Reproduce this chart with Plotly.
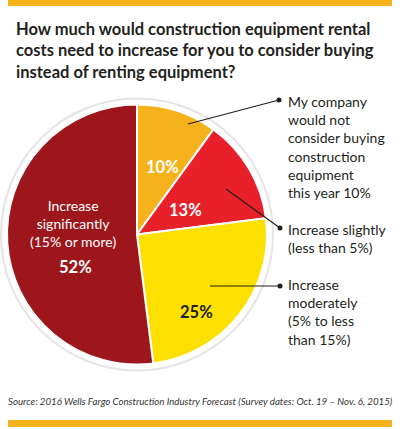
import plotly.graph_objects as go

# survey answers, clockwise from 12 o'clock
answers = [
    "My company would not consider buying construction equipment this year",
    "Increase slightly (less than 5%)",
    "Increase moderately (5% to less than 15%)",
    "Increase significantly (15% or more)",
]
shares = [10, 13, 25, 52]
colors = ["#F6B21B", "#E8202A", "#FEE000", "#9D161C"]

title = ("How much would construction equipment rental<br>"
         "costs need to increase for you to consider buying<br>"
         "instead of renting equipment?")
source = ("Source: 2016 Wells Fargo Construction Industry Forecast "
          "(Survey dates: Oct. 19 \u2013 Nov. 6, 2015)")

W, H = 400, 429
FONT = "Lato"
INK = "#231F20"


def px(x):
    return x / W


def py(y):
    return 1 - y / H


fig = go.Figure(go.Pie(
    labels=answers,
    values=shares,
    sort=False,
    direction="clockwise",
    rotation=0,
    marker=dict(colors=colors, line=dict(color="white", width=2)),
    textinfo="none",
    hoverinfo="label+percent",
    showlegend=False,
    domain=dict(x=[px(7), px(267)], y=[py(365), py(104)]),
))

shapes = []
# top and bottom rules
for y0, y1 in [(0, 6), (420, 427)]:
    shapes.append(dict(type="rect", xref="paper", yref="paper",
                       x0=px(8), x1=px(392), y0=py(y1), y1=py(y0),
                       fillcolor="#F6B21B", line_width=0, layer="below"))
# white rim with soft grey edge behind the pie
shapes.append(dict(type="circle", xref="paper", yref="paper",
                   x0=px(137 - 136), x1=px(137 + 136),
                   y0=py(234.5 + 136), y1=py(234.5 - 136),
                   fillcolor="white", line=dict(color="#E4E4E4", width=2),
                   layer="below"))

# leader lines: (dot x, dot y, end x, end y)
leaders = [(279, 100, 188, 124), (280, 228, 226, 189), (280, 286, 210, 286)]
for dx, dy, ex, ey in leaders:
    shapes.append(dict(type="line", xref="paper", yref="paper",
                       x0=px(dx), y0=py(dy), x1=px(ex), y1=py(ey),
                       line=dict(color=INK, width=1.2)))
    shapes.append(dict(type="circle", xref="paper", yref="paper",
                       x0=px(dx - 2.5), x1=px(dx + 2.5),
                       y0=py(dy + 2.5), y1=py(dy - 2.5),
                       fillcolor=INK, line_width=0))

annotations = [
    dict(text="<b>" + title + "</b>", x=px(14), y=py(51), xanchor="left",
         yanchor="middle", align="left",
         font=dict(family=FONT, size=16.5, color=INK)),
    dict(text="<i>" + source + "</i>", x=px(200), y=py(401), xanchor="center",
         yanchor="middle", font=dict(family=FONT, size=9.7, color="#333333")),
]

# right side callouts
side_text = [
    "My company<br>would not<br>consider buying<br>construction<br>equipment<br>this year %d%%" % shares[0],
    "Increase slightly<br>(less than 5%)",
    "Increase<br>moderately<br>(5% to less<br>than 15%)",
]
side_y = [147, 238, 311.5]
for t, y in zip(side_text, side_y):
    annotations.append(dict(text=t, x=px(286), y=py(y), xanchor="left",
                            yanchor="middle", align="left",
                            font=dict(family=FONT, size=14, color=INK)))

# labels inside the slices
inside = [
    ("<b>%d%%</b>" % shares[0], 162, 167, "white"),
    ("<b>%d%%</b>" % shares[1], 185, 210, "white"),
    ("<b>%d%%</b>" % shares[2], 196, 312, INK),
]
for t, x, y, c in inside:
    annotations.append(dict(text=t, x=px(x), y=py(y), xanchor="center",
                            yanchor="middle",
                            font=dict(family=FONT, size=16.5, color=c)))
annotations.append(dict(text="Increase<br>significantly<br>(15% or more)",
                        x=px(73), y=py(223), xanchor="center", yanchor="middle",
                        font=dict(family=FONT, size=14, color="white")))
annotations.append(dict(text="<b>%d%%</b>" % shares[3], x=px(75), y=py(267),
                        xanchor="center", yanchor="middle",
                        font=dict(family=FONT, size=16.5, color="white")))

for a in annotations:
    a.update(xref="paper", yref="paper", showarrow=False)

fig.update_layout(
    width=W, height=H,
    margin=dict(l=0, r=0, t=0, b=0),
    paper_bgcolor="white",
    plot_bgcolor="white",
    shapes=shapes,
    annotations=annotations,
)

# drop the browser's default 8px page margin so the figure fills the window
fig.write_html("out.html", config={"displayModeBar": False},
               post_script="document.body.style.margin='0';"
                           "document.body.style.overflow='hidden';")
